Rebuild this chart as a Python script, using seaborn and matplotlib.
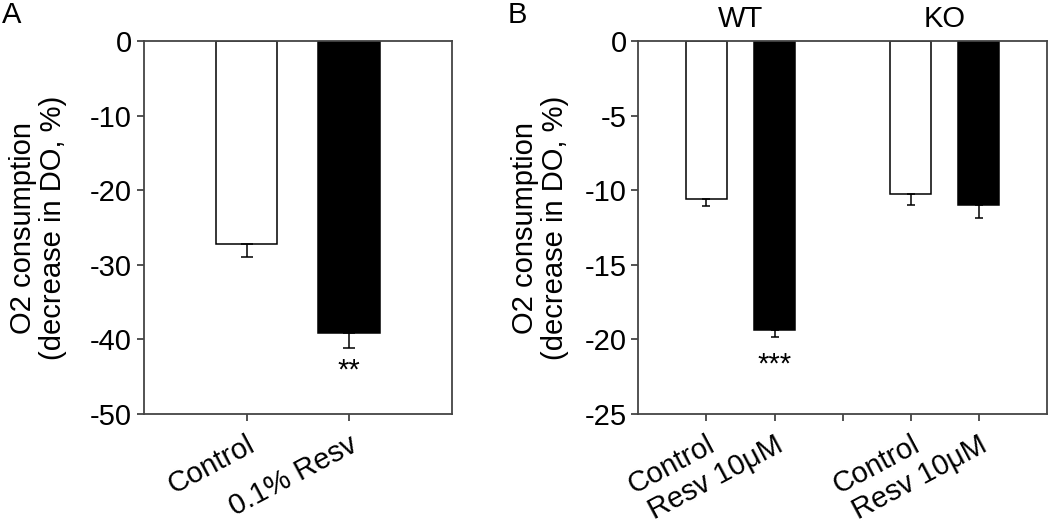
import numpy as np
import pandas as pd
import matplotlib
matplotlib.use('Agg')
import matplotlib.pyplot as plt
import seaborn as sns

# Panel A data
a_groups = ['Control', '0.1% Resv']
a_means = [-27.2, -39.2]
a_errs = [1.8, 2.0]
a_colors = ['white', 'black']

# Panel B data (position 2 is an empty gap between WT and KO)
b_pos = [0, 1, 3, 4]
b_labels = ['Control', 'Resv 10\u03bcM', 'Control', 'Resv 10\u03bcM']
b_means = [-10.55, -19.4, -10.25, -11.0]
b_errs = [0.5, 0.47, 0.7, 0.85]
b_colors = ['white', 'black', 'white', 'black']

sns.set_theme(style='ticks')
plt.rcParams['font.family'] = ['Liberation Sans', 'DejaVu Sans']
plt.rcParams['axes.unicode_minus'] = False
plt.rcParams['text.color'] = 'black'
plt.rcParams['axes.labelcolor'] = 'black'
plt.rcParams['axes.edgecolor'] = '#444444'
plt.rcParams['xtick.color'] = '#444444'
plt.rcParams['ytick.color'] = '#444444'
plt.rcParams['xtick.labelcolor'] = 'black'
plt.rcParams['ytick.labelcolor'] = 'black'

FS = 21
fig = plt.figure(figsize=(10.5, 5.3), dpi=100)
ax1 = fig.add_axes([0.137, 0.219, 0.2933, 0.703])
ax2 = fig.add_axes([0.608, 0.219, 0.389, 0.703])

ylabel = 'O2 consumption\n(decrease in DO, %)'

# ---- Panel A ----
df_a = pd.DataFrame({'group': a_groups, 'value': a_means})
sns.barplot(data=df_a, x='group', y='value', hue='group', palette=a_colors,
            order=a_groups, width=0.6, edgecolor='black', linewidth=1.1,
            legend=False, ax=ax1)
xa = np.arange(len(a_groups))
ax1.errorbar(xa, a_means, yerr=[a_errs, np.zeros(len(a_errs))], fmt='none',
             ecolor='black', elinewidth=1.1, capsize=4.3, capthick=1.1)
ax1.set_xlim(-1, 2)
ax1.set_ylim(-50, 0)
ax1.set_yticks([0, -10, -20, -30, -40, -50])
ax1.set_xticks(xa)
ax1.set_xticklabels(a_groups, rotation=28, ha='right', rotation_mode='anchor')
ax1.text(1, -44.2, '**', ha='center', va='center', fontsize=FS)
ax1.set_xlabel('')
ax1.set_ylabel(ylabel, fontsize=FS, linespacing=1.1)
ax1.yaxis.set_label_coords(-0.25, 0.5)

# ---- Panel B ----
df_b = pd.DataFrame({'pos': b_pos, 'value': b_means})
sns.barplot(data=df_b, x='pos', y='value', hue='pos', palette=b_colors,
            native_scale=True, width=0.6, edgecolor='black', linewidth=1.1,
            legend=False, ax=ax2)
ax2.errorbar(b_pos, b_means, yerr=[b_errs, np.zeros(len(b_errs))], fmt='none',
             ecolor='black', elinewidth=1.1, capsize=3, capthick=1.1)
ax2.set_xlim(-1, 5)
ax2.set_ylim(-25, 0)
ax2.set_yticks([0, -5, -10, -15, -20, -25])
ax2.set_xticks([0, 1, 2, 3, 4])
ax2.set_xticklabels([b_labels[0], b_labels[1], '', b_labels[2], b_labels[3]],
                    rotation=28, ha='right', rotation_mode='anchor')
ax2.text(1, -21.7, '***', ha='center', va='center', fontsize=FS)
ax2.text(0.5, 1.06, 'WT', transform=ax2.get_xaxis_transform(), ha='center',
         va='center', fontsize=FS)
ax2.text(3.5, 1.06, 'KO', transform=ax2.get_xaxis_transform(), ha='center',
         va='center', fontsize=FS)
ax2.set_xlabel('')
ax2.set_ylabel(ylabel, fontsize=FS, linespacing=1.1)
ax2.yaxis.set_label_coords(-0.17, 0.5)

# panel letters
fig.text(0.002, 0.998, 'A', fontsize=FS, ha='left', va='top')
fig.text(0.483, 0.998, 'B', fontsize=FS, ha='left', va='top')

for ax in (ax1, ax2):
    for s in ax.spines.values():
        s.set_visible(True)
        s.set_linewidth(1.3)
    ax.tick_params(axis='both', labelsize=FS, length=5, width=1.3, direction='out')
    ax.tick_params(axis='x', pad=7)

fig.savefig('out.png', dpi=100)
